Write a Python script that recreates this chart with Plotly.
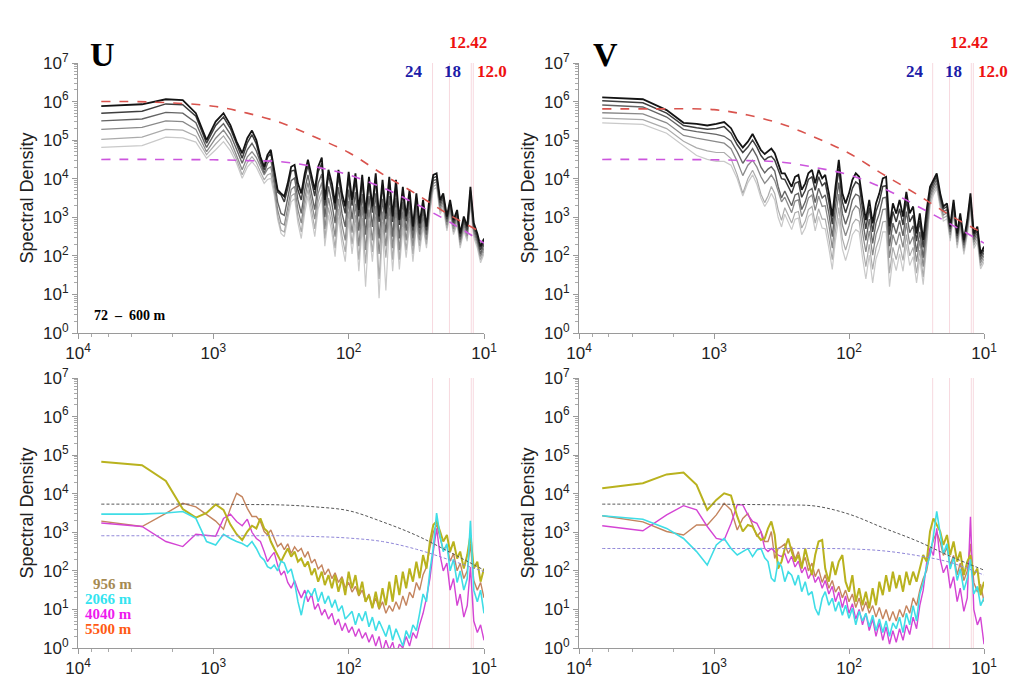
import plotly.graph_objects as go

# ---------------- data ----------------
# periods (hours) of the spectral estimates, shared by all four panels
period_h = [6730, 3365, 2243, 1682, 1346, 1122, 961, 841, 748, 673, 612, 561, 518, 481, 449, 421,
            398, 376, 355, 335, 316, 299, 282, 266, 251, 237, 224, 211, 200, 188, 178, 168, 158, 150,
            141, 133, 126, 119, 112, 106, 100, 94.4, 89.1, 84.1, 79.4, 75.0, 70.8, 66.8, 63.1, 59.6,
            56.2, 53.1, 50.1, 47.3, 44.7, 42.2, 39.8, 37.6, 35.5, 33.5, 31.6, 29.9, 28.2, 26.6, 25.1,
            23.7, 22.4, 21.1, 20.0, 18.8, 17.8, 16.8, 15.8, 15.0, 14.1, 13.3, 12.6, 11.9, 11.2, 10.6, 10.0]

# ---- U component, 72-600 m (log10 of spectral density), dark -> light
u_curve1 = [5.88, 5.93, 6.06, 6.04, 5.70, 5.00, 5.48, 5.70, 5.39, 4.96, 4.66, 5.05, 5.25, 5.00, 4.57, 4.31,
            4.62, 4.75, 4.23, 3.71, 3.62, 3.54, 3.88, 4.31, 4.36, 3.88, 3.62, 4.14, 4.49, 4.05, 3.71, 4.31, 4.55,
            3.45, 4.23, 3.88, 3.36, 4.23, 3.62, 3.28, 4.18, 3.45, 4.14, 3.19, 4.10, 3.10, 4.05, 3.28, 4.14, 3.02,
            3.97, 3.10, 4.05, 3.02, 3.97, 2.93, 3.79, 3.02, 3.71, 2.76, 3.62, 2.84, 3.45, 2.76, 3.62, 4.10, 4.14,
            3.45, 3.62, 3.02, 3.45, 2.93, 3.19, 2.58, 3.02, 2.76, 3.79, 2.85, 2.58, 2.24, 2.45]
u_curve2 = [5.70, 5.75, 5.94, 5.92, 5.62, 4.92, 5.38, 5.60, 5.30, 4.88, 4.53, 4.93, 5.14, 4.90, 4.50, 4.23,
            4.55, 4.66, 4.15, 3.65, 3.58, 3.40, 3.75, 4.20, 4.22, 3.70, 3.45, 4.00, 4.35, 3.90, 3.55, 4.18, 4.40,
            3.30, 4.10, 3.70, 3.20, 4.08, 3.45, 3.10, 4.02, 3.30, 3.98, 3.02, 3.95, 2.95, 3.90, 3.12, 3.98, 2.88,
            3.82, 2.95, 3.90, 2.88, 3.82, 2.80, 3.65, 2.90, 3.58, 2.65, 3.50, 2.72, 3.35, 2.66, 3.52, 4.02, 4.06,
            3.38, 3.55, 2.95, 3.38, 2.86, 3.12, 2.50, 2.95, 2.68, 3.70, 2.78, 2.50, 2.15, 2.38]
u_curve3 = [5.50, 5.55, 5.72, 5.70, 5.45, 4.81, 5.22, 5.43, 5.15, 4.76, 4.40, 4.75, 4.92, 4.72, 4.40, 4.14,
            4.40, 4.49, 4.00, 3.40, 3.10, 3.05, 3.50, 3.95, 4.02, 3.45, 3.10, 3.72, 4.10, 3.60, 3.20, 3.88, 4.12,
            3.00, 3.80, 3.35, 2.85, 3.78, 3.10, 2.75, 3.72, 2.95, 3.65, 2.65, 3.60, 2.55, 3.55, 2.75, 3.62, 2.45,
            3.48, 2.60, 3.55, 2.50, 3.50, 2.45, 3.40, 2.65, 3.38, 2.45, 3.30, 2.55, 3.18, 2.55, 3.42, 3.95, 3.98,
            3.30, 3.48, 2.88, 3.30, 2.78, 3.05, 2.42, 2.88, 2.60, 3.60, 2.70, 2.42, 2.05, 2.30]
u_curve4 = [5.28, 5.33, 5.50, 5.48, 5.28, 4.70, 5.05, 5.26, 5.00, 4.62, 4.23, 4.57, 4.70, 4.55, 4.30, 4.10,
            4.25, 4.31, 3.85, 3.20, 2.85, 2.80, 3.25, 3.72, 3.80, 3.20, 2.85, 3.50, 3.90, 3.35, 2.95, 3.62, 3.90,
            2.70, 3.50, 3.05, 2.50, 3.48, 2.80, 2.40, 3.42, 2.60, 3.35, 2.25, 3.28, 2.15, 3.20, 2.40, 3.30, 2.05,
            3.15, 2.25, 3.25, 2.20, 3.20, 2.15, 3.15, 2.40, 3.15, 2.25, 3.10, 2.40, 3.02, 2.42, 3.32, 3.88, 3.92,
            3.22, 3.40, 2.80, 3.22, 2.70, 2.98, 2.35, 2.80, 2.52, 3.50, 2.62, 2.35, 1.98, 2.20]
u_curve5 = [5.02, 5.08, 5.28, 5.26, 5.10, 4.62, 4.90, 5.11, 4.85, 4.50, 4.10, 4.42, 4.57, 4.42, 4.18, 3.97,
            4.10, 4.14, 3.70, 3.05, 2.67, 2.62, 3.08, 3.55, 3.62, 3.00, 2.62, 3.30, 3.72, 3.12, 2.70, 3.40, 3.70,
            2.45, 3.25, 2.80, 2.20, 3.22, 2.52, 2.10, 3.15, 2.30, 3.05, 1.90, 2.98, 1.80, 2.92, 2.10, 3.02, 1.40,
            2.88, 1.95, 3.00, 1.90, 2.95, 1.90, 2.92, 2.15, 2.95, 2.05, 2.92, 2.25, 2.88, 2.30, 3.22, 3.80, 3.85,
            3.15, 3.32, 2.72, 3.15, 2.62, 2.90, 2.28, 2.72, 2.45, 3.42, 2.55, 2.28, 1.90, 2.12]
u_curve6 = [4.81, 4.86, 5.08, 5.06, 4.95, 4.53, 4.75, 4.96, 4.72, 4.40, 4.01, 4.30, 4.44, 4.30, 4.08, 3.88,
            3.98, 4.01, 3.58, 2.95, 2.58, 2.50, 2.95, 3.40, 3.48, 2.85, 2.45, 3.12, 3.55, 2.95, 2.50, 3.22, 3.52,
            2.25, 3.05, 2.60, 1.98, 3.00, 2.30, 1.85, 2.92, 2.05, 2.82, 1.60, 2.75, 1.20, 2.70, 1.85, 2.80, 0.90,
            2.65, 1.10, 2.80, 1.60, 2.75, 1.65, 2.72, 1.95, 2.78, 1.85, 2.78, 2.10, 2.75, 2.20, 3.12, 3.72, 3.78,
            3.08, 3.25, 2.65, 3.08, 2.55, 2.82, 2.20, 2.65, 2.38, 3.35, 2.48, 2.20, 1.82, 2.05]

# ---- V component, 72-600 m
v_curve1 = [6.11, 6.06, 5.78, 5.45, 5.42, 5.38, 5.42, 5.47, 5.31, 5.00, 4.81, 4.96, 5.16, 4.96, 4.74, 4.64,
            4.70, 4.78, 4.66, 4.40, 4.14, 4.14, 3.97, 3.79, 4.05, 4.10, 3.71, 3.88, 4.14, 4.23, 3.88, 4.23, 4.01,
            4.10, 3.62, 3.02, 3.79, 4.49, 3.62, 3.36, 3.62, 3.97, 4.14, 4.05, 3.45, 2.93, 3.45, 2.84, 3.36, 3.62,
            4.01, 4.05, 2.76, 3.36, 3.10, 3.45, 3.02, 3.66, 3.10, 3.28, 2.58, 3.10, 2.41, 3.19, 3.79, 3.97, 4.14,
            3.62, 3.28, 3.36, 2.76, 3.45, 2.58, 3.10, 2.41, 2.93, 3.62, 2.58, 2.76, 2.06, 2.24]
v_curve2 = [6.02, 5.97, 5.70, 5.38, 5.32, 5.28, 5.30, 5.35, 5.18, 4.88, 4.68, 4.82, 5.00, 4.82, 4.60, 4.48,
            4.55, 4.58, 4.48, 4.25, 4.00, 3.98, 3.80, 3.62, 3.88, 3.92, 3.52, 3.70, 3.98, 4.05, 3.70, 4.05, 3.82,
            3.90, 3.40, 2.82, 3.58, 4.25, 3.40, 3.12, 3.40, 3.75, 3.92, 3.85, 3.22, 2.70, 3.25, 2.62, 3.15, 3.40,
            3.80, 3.82, 2.55, 3.15, 2.88, 3.22, 2.80, 3.45, 2.88, 3.05, 2.38, 2.90, 2.22, 3.00, 3.70, 3.90, 4.06,
            3.55, 3.22, 3.28, 2.70, 3.38, 2.52, 3.02, 2.35, 2.86, 3.52, 2.50, 2.68, 1.98, 2.16]
v_curve3 = [5.91, 5.86, 5.60, 5.28, 5.22, 5.18, 5.15, 5.10, 4.98, 4.70, 4.40, 4.60, 4.78, 4.58, 4.30, 4.15,
            4.25, 4.31, 4.20, 3.80, 3.50, 3.68, 3.50, 3.30, 3.58, 3.62, 3.20, 3.40, 3.68, 3.75, 3.38, 3.75, 3.50,
            3.58, 3.10, 2.50, 3.28, 3.90, 3.10, 2.82, 3.08, 3.45, 3.60, 3.55, 2.92, 2.40, 2.95, 2.32, 2.85, 3.10,
            3.50, 3.52, 2.25, 2.85, 2.58, 2.92, 2.52, 3.15, 2.60, 2.78, 2.10, 2.62, 1.95, 2.75, 3.60, 3.82, 3.98,
            3.48, 3.15, 3.20, 2.62, 3.30, 2.45, 2.95, 2.28, 2.78, 3.44, 2.42, 2.60, 1.90, 2.08]
v_curve4 = [5.71, 5.68, 5.45, 5.12, 5.05, 5.00, 4.95, 4.92, 4.78, 4.45, 4.08, 4.35, 4.48, 4.30, 4.05, 3.88,
            3.98, 4.10, 3.95, 3.70, 3.40, 3.52, 3.32, 3.12, 3.42, 3.45, 3.02, 3.22, 3.50, 3.58, 3.18, 3.55, 3.28,
            3.30, 2.80, 2.20, 2.98, 3.60, 2.80, 2.52, 2.78, 3.15, 3.30, 3.22, 2.60, 2.10, 2.65, 2.02, 2.55, 2.80,
            3.20, 3.22, 1.95, 2.55, 2.28, 2.62, 2.22, 2.85, 2.30, 2.50, 1.85, 2.40, 1.72, 2.55, 3.50, 3.74, 3.90,
            3.40, 3.06, 3.12, 2.54, 3.22, 2.36, 2.88, 2.20, 2.70, 3.36, 2.35, 2.52, 1.82, 2.00]
v_curve5 = [5.57, 5.53, 5.30, 4.97, 4.80, 4.72, 4.68, 4.68, 4.52, 4.10, 3.62, 4.00, 4.22, 3.98, 3.60, 3.38,
            3.55, 3.80, 3.62, 3.20, 2.92, 3.25, 3.05, 2.85, 3.12, 3.15, 2.72, 2.90, 3.20, 3.28, 2.85, 3.22, 2.95,
            2.95, 2.45, 1.90, 2.65, 3.25, 2.45, 2.15, 2.45, 2.82, 2.95, 2.90, 2.25, 1.72, 2.30, 1.65, 2.20, 2.45,
            2.88, 2.90, 1.55, 2.22, 1.90, 2.30, 1.88, 2.55, 2.00, 2.22, 1.55, 2.15, 1.45, 2.35, 3.40, 3.66, 3.82,
            3.32, 2.98, 3.04, 2.46, 3.14, 2.28, 2.80, 2.12, 2.62, 3.28, 2.27, 2.44, 1.74, 1.92]
v_curve6 = [5.45, 5.41, 5.18, 4.85, 4.60, 4.50, 4.45, 4.45, 4.35, 4.00, 3.55, 3.90, 4.10, 3.85, 3.50, 3.28,
            3.42, 3.62, 3.45, 3.00, 2.75, 3.08, 2.88, 2.68, 2.95, 2.98, 2.55, 2.72, 3.02, 3.10, 2.65, 3.02, 2.72,
            2.70, 2.20, 1.65, 2.40, 2.98, 2.18, 1.88, 2.18, 2.55, 2.68, 2.62, 1.95, 1.40, 2.02, 1.30, 1.92, 2.18,
            2.62, 2.62, 1.20, 1.95, 1.62, 2.05, 1.60, 2.30, 1.75, 1.98, 1.30, 1.92, 1.25, 2.18, 3.30, 3.58, 3.75,
            3.25, 2.90, 2.96, 2.38, 3.06, 2.20, 2.72, 2.04, 2.54, 3.20, 2.19, 2.36, 1.66, 1.84]

# ---- deep records, U component (log10)
u_956m = [4.83, 4.74, 4.33, 3.60, 3.38, 3.50, 3.72, 3.58, 3.20, 2.95, 2.80, 3.02, 3.17, 3.10, 3.36, 3.10,
          3.02, 2.76, 2.58, 2.41, 2.24, 2.41, 2.58, 2.37, 2.50, 2.24, 2.32, 2.11, 2.24, 1.89, 2.06, 1.72, 1.98,
          1.63, 1.89, 1.55, 1.89, 1.46, 1.81, 1.37, 1.98, 1.55, 1.89, 1.37, 1.72, 1.20, 1.37, 1.03, 1.46, 1.03,
          1.55, 1.11, 1.72, 1.20, 1.89, 1.37, 1.98, 1.55, 2.06, 1.72, 2.24, 1.81, 2.41, 2.06, 2.76, 3.19, 3.28,
          3.02, 2.76, 2.93, 2.50, 2.76, 2.32, 2.50, 2.06, 2.41, 2.93, 2.06, 2.24, 1.72, 2.06]
u_2066m = [3.47, 3.47, 3.50, 3.54, 3.36, 2.76, 2.67, 2.95, 2.84, 2.76, 2.71, 2.63, 2.76, 2.58, 2.37, 2.28,
           2.11, 2.06, 2.15, 2.00, 2.25, 2.20, 1.95, 2.05, 1.70, 1.20, 0.85, 1.30, 1.50, 1.35, 1.55, 1.20, 1.45,
           1.15, 1.35, 1.05, 1.25, 0.95, 1.10, 0.75, 0.85, 0.95, 0.60, 0.90, 0.70, 0.95, 0.55, 0.80, 0.45, 0.70,
           0.50, 0.30, 0.60, 0.20, 0.50, 0.30, 0.05, 0.45, 0.25, 0.60, 0.45, 0.90, 1.40, 1.20, 2.00, 2.60, 3.50,
           2.90, 2.50, 2.70, 2.00, 2.30, 1.70, 2.00, 1.50, 1.80, 3.30, 1.50, 1.20, 1.50, 0.90]
u_4040m = [3.24, 3.15, 2.76, 2.63, 2.95, 2.93, 2.90, 3.36, 3.47, 3.28, 3.17, 3.34, 3.00, 2.84, 2.76, 2.50,
           2.24, 2.37, 2.48, 2.15, 1.89, 2.00, 1.70, 1.55, 1.75, 1.50, 1.30, 1.50, 1.20, 1.40, 1.00, 1.15, 0.85,
           1.00, 0.75, 0.90, 0.60, 0.75, 0.45, 0.65, 0.40, 0.55, 0.30, 0.50, 0.25, 0.40, 0.15, 0.35, 0.05, 0.30,
           -0.10, 0.20, -0.05, 0.15, -0.20, 0.10, 0.00, 0.30, 0.05, 0.40, 0.25, 0.60, 0.90, 1.30, 1.80, 2.50, 3.10,
           2.40, 2.00, 2.20, 1.50, 1.80, 1.10, 1.40, 0.80, 1.10, 2.10, 0.70, 0.40, 0.60, 0.20]
u_5500m = [3.29, 3.15, 3.49, 3.75, 3.66, 3.47, 3.29, 3.08, 3.62, 4.01, 3.92, 3.62, 3.41, 3.41, 3.28, 3.02,
           2.93, 3.06, 2.84, 2.63, 2.71, 2.55, 2.70, 2.45, 2.62, 2.50, 2.58, 2.35, 2.50, 2.20, 2.30, 2.05, 2.15,
           1.90, 2.05, 1.80, 1.95, 1.70, 1.85, 1.55, 1.70, 1.45, 1.60, 1.35, 1.50, 1.20, 1.40, 1.05, 1.30, 1.00,
           1.20, 0.90, 1.10, 0.95, 1.20, 1.00, 1.35, 1.10, 1.45, 1.30, 1.70, 1.50, 1.90, 2.10, 2.60, 3.00, 3.20,
           2.85, 2.55, 2.65, 2.25, 2.45, 2.00, 2.20, 1.80, 2.00, 2.70, 1.75, 1.50, 1.70, 1.30]

# ---- deep records, V component (log10)
v_956m = [4.14, 4.27, 4.50, 4.55, 4.23, 3.58, 3.84, 4.01, 3.95, 3.41, 3.02, 3.19, 3.15, 2.93, 2.80, 2.84,
          3.10, 3.28, 2.93, 2.06, 2.24, 2.58, 2.84, 2.50, 2.24, 2.41, 2.06, 2.58, 2.24, 1.89, 2.41, 2.76, 2.80,
          2.06, 1.72, 2.24, 1.89, 2.24, 2.41, 1.72, 1.46, 1.89, 1.20, 1.55, 1.11, 1.46, 1.03, 1.55, 1.11, 1.72,
          1.37, 1.89, 1.46, 1.98, 1.55, 1.89, 1.46, 1.98, 1.63, 1.98, 1.72, 2.06, 2.41, 2.24, 3.02, 3.36, 3.19,
          3.02, 2.67, 2.93, 2.41, 2.76, 2.24, 2.50, 1.89, 2.24, 2.41, 1.89, 2.06, 1.37, 1.72]
v_2066m = [3.43, 3.34, 3.10, 2.84, 2.50, 2.15, 2.67, 2.84, 2.58, 2.41, 2.50, 2.58, 2.37, 2.54, 2.58, 2.34,
           2.24, 1.81, 1.72, 2.24, 2.11, 1.72, 1.98, 1.89, 1.63, 1.89, 1.46, 1.72, 1.37, 1.46, 1.03, 0.85, 1.29,
           1.46, 1.11, 1.29, 0.95, 1.20, 0.85, 1.11, 0.77, 1.03, 0.60, 0.95, 0.70, 0.90, 0.55, 0.85, 0.45, 0.75,
           0.40, 0.70, 0.30, 0.65, 0.50, 0.80, 0.40, 0.90, 0.60, 1.10, 0.70, 1.40, 1.70, 2.10, 2.40, 2.90, 3.54,
           2.90, 2.45, 2.70, 2.05, 2.35, 1.75, 2.05, 1.50, 1.80, 2.30, 1.40, 1.60, 1.10, 1.30]
v_4040m = [3.17, 3.04, 3.45, 3.69, 3.58, 3.15, 2.84, 2.80, 3.23, 3.71, 3.71, 3.45, 3.28, 3.23, 3.02, 2.58,
           2.50, 2.58, 2.50, 2.41, 2.37, 2.45, 2.20, 2.38, 2.10, 2.25, 1.95, 2.10, 1.80, 1.98, 1.70, 1.85, 1.55,
           1.75, 1.40, 1.60, 1.20, 1.45, 1.05, 1.35, 0.90, 1.15, 0.75, 1.00, 0.60, 0.90, 0.45, 0.75, 0.30, 0.65,
           0.20, 0.55, 0.10, 0.45, 0.15, 0.50, 0.20, 0.60, 0.35, 0.80, 0.50, 1.10, 1.50, 2.20, 2.60, 2.40, 3.10,
           2.30, 1.95, 2.15, 1.55, 1.85, 1.20, 1.55, 0.95, 1.30, 3.40, 1.00, 0.60, 0.80, 0.10]
v_5500m = [3.43, 3.27, 3.02, 2.93, 3.19, 3.19, 3.45, 3.75, 3.58, 3.06, 3.36, 3.49, 3.19, 2.89, 3.02, 2.76,
           2.76, 3.02, 2.32, 2.58, 2.63, 2.70, 2.45, 2.62, 2.30, 2.50, 2.15, 2.35, 2.00, 2.20, 1.85, 2.05, 1.70,
           1.90, 1.55, 1.75, 1.45, 1.60, 1.30, 1.50, 1.20, 1.40, 1.05, 1.30, 0.95, 1.20, 0.90, 1.10, 0.80, 1.05,
           0.75, 1.00, 0.70, 0.95, 0.70, 1.00, 0.80, 1.10, 0.90, 1.30, 1.10, 1.50, 1.80, 2.00, 2.50, 2.80, 3.00,
           2.75, 2.40, 2.60, 2.15, 2.40, 1.90, 2.20, 1.75, 2.00, 2.70, 1.70, 1.45, 1.65, 1.20]

# ---- reference (model) spectra, log10, at these periods
model_period_h = [6730, 3000, 1000, 562, 316, 178, 100, 56.2, 31.6, 17.8, 10.0]
u_model_red = [6.00, 5.99, 5.88, 5.70, 5.45, 5.08, 4.68, 4.12, 3.60, 3.05, 2.58]
u_model_mag = [4.50, 4.50, 4.49, 4.47, 4.44, 4.31, 4.10, 3.77, 3.34, 2.87, 2.33]
v_model_red = [5.81, 5.81, 5.79, 5.65, 5.42, 5.07, 4.66, 4.12, 3.60, 3.05, 2.58]
v_model_mag = [4.50, 4.50, 4.49, 4.47, 4.43, 4.29, 4.10, 3.76, 3.30, 2.83, 2.33]
ud_model_dark = [3.73, 3.73, 3.73, 3.72, 3.71, 3.66, 3.56, 3.27, 2.92, 2.48, 2.02]
ud_model_blue = [2.91, 2.91, 2.91, 2.91, 2.91, 2.89, 2.85, 2.76, 2.56, 2.28, 1.98]
vd_model_dark = [3.73, 3.73, 3.73, 3.72, 3.71, 3.68, 3.47, 3.12, 2.78, 2.38, 2.02]
vd_model_blue = [2.58, 2.58, 2.58, 2.58, 2.58, 2.58, 2.57, 2.52, 2.40, 2.22, 1.89]

# tidal / inertial periods (hours) marked by thin lines
tide_period_h = [24, 18, 12.42, 12.0]
tide_label = ["24", "18", "12.42", "12.0"]
tide_label_color = ["#1c1ca8", "#1c1ca8", "#ee1111", "#ee1111"]

depth_labels = ["956 m", "2066 m", "4040 m", "5500 m"]
depth_label_colors = ["#a68a52", "#33e4f0", "#ee1aee", "#ff5a14"]

x_tick_exp = [1, 2, 3, 4]
y_tick_exp = [0, 1, 2, 3, 4, 5, 6, 7]

# ---------------- figure ----------------
W, H = 1031, 697
PAGE_OFFSET = 8   # the html page body margin shifts the figure by this many pixels


def fx(p):
    return (p - PAGE_OFFSET) / W


def fy(p):
    return 1 - (p - PAGE_OFFSET) / H


def lin(v):
    return [10 ** a for a in v]


fig = go.Figure()

panels = [("x", "y"), ("x2", "y2"), ("x3", "y3"), ("x4", "y4")]

# tidal marker lines
for xa, ya in panels:
    for p in tide_period_h:
        fig.add_trace(go.Scatter(x=[p, p], y=[1, 1e7], mode="lines",
                                 line=dict(color="#f7d9df", width=1),
                                 xaxis=xa, yaxis=ya, hoverinfo="skip", showlegend=False))

gray_cols = ["#141414", "#3e3e3e", "#646464", "#8a8a8a", "#ababab", "#c9c9c9"]
gray_w = [1.8, 1.5, 1.4, 1.3, 1.2, 1.2]

u_curves = [u_curve1, u_curve2, u_curve3, u_curve4, u_curve5, u_curve6]
v_curves = [v_curve1, v_curve2, v_curve3, v_curve4, v_curve5, v_curve6]

for curves, (xa, ya) in [(u_curves, panels[0]), (v_curves, panels[1])]:
    for i in reversed(range(6)):
        fig.add_trace(go.Scatter(x=period_h, y=lin(curves[i]), mode="lines",
                                 line=dict(color=gray_cols[i], width=gray_w[i]),
                                 xaxis=xa, yaxis=ya, showlegend=False))

for red, mag, (xa, ya) in [(u_model_red, u_model_mag, panels[0]), (v_model_red, v_model_mag, panels[1])]:
    fig.add_trace(go.Scatter(x=model_period_h, y=lin(mag), mode="lines", line_shape="spline",
                             line=dict(color="#cc55dd", width=1.6, dash="dash"),
                             xaxis=xa, yaxis=ya, showlegend=False))
    fig.add_trace(go.Scatter(x=model_period_h, y=lin(red), mode="lines", line_shape="spline",
                             line=dict(color="#d9534d", width=1.6, dash="dash"),
                             xaxis=xa, yaxis=ya, showlegend=False))

deep_cols = {"956": "#b9b21e", "2066": "#3fdde6", "4040": "#d444d4", "5500": "#c4845e"}
for (s956, s2066, s4040, s5500), (xa, ya), dark, blue in [
        ((u_956m, u_2066m, u_4040m, u_5500m), panels[2], ud_model_dark, ud_model_blue),
        ((v_956m, v_2066m, v_4040m, v_5500m), panels[3], vd_model_dark, vd_model_blue)]:
    for s, key, w in [(s5500, "5500", 1.4), (s4040, "4040", 1.4), (s956, "956", 2.0), (s2066, "2066", 1.6)]:
        fig.add_trace(go.Scatter(x=period_h, y=lin(s), mode="lines",
                                 line=dict(color=deep_cols[key], width=w),
                                 xaxis=xa, yaxis=ya, showlegend=False))
    fig.add_trace(go.Scatter(x=model_period_h, y=lin(dark), mode="lines", line_shape="spline",
                             line=dict(color="#555555", width=1, dash="3px,2px"),
                             xaxis=xa, yaxis=ya, showlegend=False))
    fig.add_trace(go.Scatter(x=model_period_h, y=lin(blue), mode="lines", line_shape="spline",
                             line=dict(color="#8f86d8", width=1, dash="3px,2px"),
                             xaxis=xa, yaxis=ya, showlegend=False))

# ---------------- axes ----------------
tick_font = dict(family="Liberation Sans, Arial, sans-serif", size=17, color="#222222")
y_minor = [m * 10 ** e for e in range(0, 7) for m in range(2, 10)]


def xaxis_cfg(dom, anchor):
    return dict(type="log", range=[4, 1], domain=dom, anchor=anchor, automargin=False,
                tickmode="array", tickvals=[10 ** e for e in x_tick_exp],
                ticktext=["10<sup>%d</sup>" % e for e in x_tick_exp],
                showline=True, linecolor="#9a9a9a", linewidth=1, mirror=False,
                ticks="outside", ticklen=5, tickcolor="#9a9a9a",
                minor=dict(ticks="outside", ticklen=3, tickcolor="#aaaaaa", showgrid=False),
                showgrid=False, zeroline=False, tickfont=tick_font)


def yaxis_cfg(dom, anchor):
    return dict(type="log", range=[0, 7], domain=dom, anchor=anchor, automargin=False,
                tickmode="array", tickvals=[10 ** e for e in y_tick_exp],
                ticktext=["10<sup>%d</sup>" % e for e in y_tick_exp],
                showline=True, linecolor="#9a9a9a", linewidth=1,
                ticks="outside", ticklen=5, tickcolor="#9a9a9a",
                minor=dict(tickmode="array", tickvals=y_minor, ticks="outside", ticklen=3, tickcolor="#aaaaaa"),
                showgrid=False, zeroline=False, tickfont=tick_font,
                title=dict(text="Spectral Density", font=dict(family="Liberation Sans, Arial, sans-serif",
                                                              size=18, color="#222222"), standoff=4))


xl = [fx(78), fx(484)]
xr = [fx(579), fx(984)]
yt = [fy(333), fy(63)]
yb = [fy(648), fy(378)]

fig.update_layout(
    width=W, height=H, margin=dict(l=0, r=0, t=0, b=0, autoexpand=False),
    paper_bgcolor="white", plot_bgcolor="white", showlegend=False,
    xaxis=xaxis_cfg(xl, "y"), yaxis=yaxis_cfg(yt, "x"),
    xaxis2=xaxis_cfg(xr, "y2"), yaxis2=yaxis_cfg(yt, "x2"),
    xaxis3=xaxis_cfg(xl, "y3"), yaxis3=yaxis_cfg(yb, "x3"),
    xaxis4=xaxis_cfg(xr, "y4"), yaxis4=yaxis_cfg(yb, "x4"),
)

# ---------------- text ----------------
serif = "Liberation Serif, Times New Roman, serif"
ann = []
ann.append(dict(x=fx(102), y=fy(55), text="<b>U</b>", font=dict(family=serif, size=34, color="black")))
ann.append(dict(x=fx(605), y=fy(55), text="<b>V</b>", font=dict(family=serif, size=34, color="black")))

label_pos_left = [(414, 72), (452, 72), (468, 42), (492, 72)]
for off in (0, 501):
    for (lx, ly), t, c in zip(label_pos_left, tide_label, tide_label_color):
        ann.append(dict(x=fx(lx + off), y=fy(ly), text="<b>%s</b>" % t,
                        font=dict(family=serif, size=17, color=c)))

ann.append(dict(x=fx(92), y=fy(315), xanchor="left",
                text="<b>72  \u2013  600 m</b>", font=dict(family=serif, size=14, color="black")))

for i, (t, c) in enumerate(zip(depth_labels, depth_label_colors)):
    ann.append(dict(x=fx(134), y=fy(584 + 15 * i), xanchor="right", text="<b>%s</b>" % t,
                    font=dict(family=serif, size=15, color=c)))

for a in ann:
    a.update(xref="paper", yref="paper", showarrow=False)
    a.setdefault("xanchor", "center")
    a.setdefault("yanchor", "middle")
fig.update_layout(annotations=ann)

fig.write_html("out.html")
